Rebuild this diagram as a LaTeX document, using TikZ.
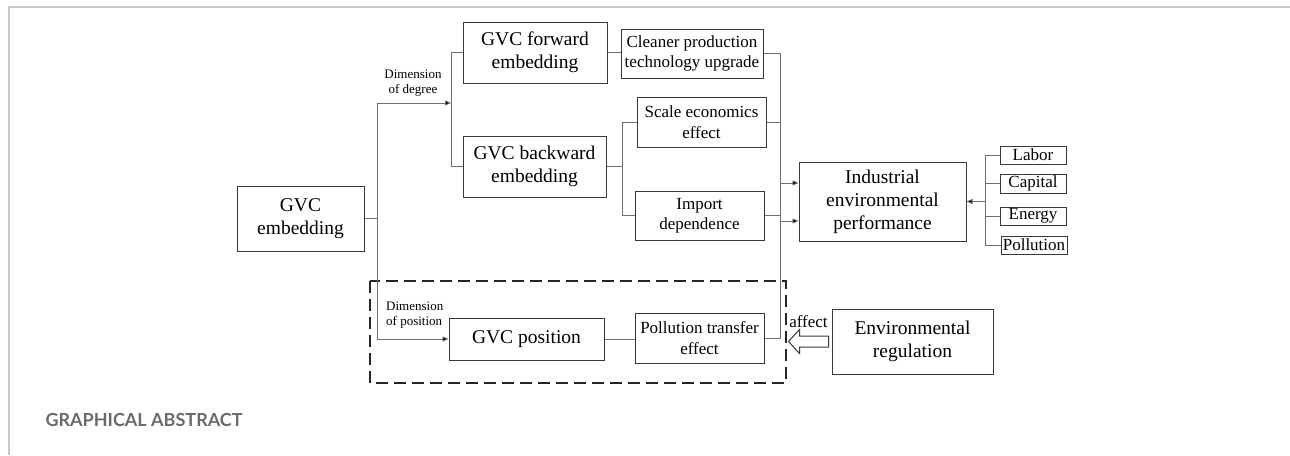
\documentclass[tikz,border=0pt]{standalone}
\usepackage{fontspec}
\setmainfont{Liberation Serif}
\newfontfamily\labelsans{Lato}
\usetikzlibrary{arrows.meta}
\newcommand\fmain{\fontsize{19.5}{23}\selectfont}
\newcommand\fsub{\fontsize{17}{20.5}\selectfont}
\newcommand\ftiny{\fontsize{13}{15.5}\selectfont}
\definecolor{boxline}{HTML}{383838}
\definecolor{conline}{HTML}{6E6E6E}
\definecolor{framegray}{HTML}{C8C8C8}
\definecolor{titlegray}{HTML}{6A6A6A}
\tikzset{
  box/.style={draw=boxline, line width=1pt, inner sep=0pt, align=center, text=black},
  mainbox/.style={box, font=\fmain},
  subbox/.style={box, font=\fsub},
  conn/.style={draw=conline, line width=0.8pt},
  arr/.style={conn, -{Triangle[length=6pt,width=5pt]}, -{Triangle[length=6pt,width=5pt,fill=black]}},
}
\begin{document}
\begin{tikzpicture}[x=1pt,y=-1pt]
\useasboundingbox (0,0) rectangle (1290,455);
% frame
\draw[framegray, line width=1.2pt] (9,455) -- (9,7) -- (1290,7);
\node[anchor=west, text=titlegray, font=\labelsans\bfseries\fontsize{18}{20}\selectfont] (title) at (42,420) {GRAPHICAL ABSTRACT};

% boxes
\node[mainbox, minimum width=127pt, minimum height=65pt] (emb) at (300.5,218.5) {GVC\\embedding};
\node[mainbox, minimum width=144pt, minimum height=61pt] (fwd) at (535,52.5) {GVC forward\\embedding};
\node[mainbox, minimum width=143pt, minimum height=61pt] (bwd) at (534.5,166.5) {GVC backward\\embedding};
\node[subbox, minimum width=142pt, minimum height=49pt] (clean) at (692,53.5) {Cleaner production\\technology upgrade};
\node[subbox, minimum width=129pt, minimum height=50pt] (scale) at (701.5,122) {Scale economics\\effect};
\node[subbox, minimum width=129pt, minimum height=49pt] (import) at (699.5,215.5) {Import\\dependence};
\node[mainbox, minimum width=167pt, minimum height=79pt] (ind) at (882.5,201.5) {Industrial\\environmental\\performance};
\node[subbox, minimum width=66pt, minimum height=18pt] (labor) at (1033,155) {Labor};
\node[subbox, minimum width=66pt, minimum height=19pt] (capital) at (1033,183.5) {Capital};
\node[subbox, minimum width=66pt, minimum height=18pt] (energy) at (1033,216) {Energy};
\node[subbox, minimum width=66pt, minimum height=18pt] (pollution) at (1034,245) {Pollution};
\node[mainbox, minimum width=155pt, minimum height=42pt] (pos) at (526.5,339) {GVC position};
\node[subbox, minimum width=129pt, minimum height=50pt] (ptrans) at (699.5,338) {Pollution transfer\\effect};
\node[mainbox, minimum width=161pt, minimum height=65pt] (envreg) at (912.5,341.5) {Environmental\\regulation};

% dashed frame
\draw[black!85, line width=2pt, dash pattern=on 12pt off 6pt] (370,281) rectangle (786,383);

% labels
\node[font=\ftiny, align=center, inner sep=0pt] (ldeg) at (413,83) {Dimension\\of degree};
\node[font=\ftiny, align=left, inner sep=0pt, anchor=west] (lpos) at (386,315) {Dimension\\of position};
\node[font=\fsub, inner sep=0pt, anchor=base] (laff) at (808.5,327) {affect};

% left trunk
\coordinate (t1) at (377,103);
\coordinate (b1) at (451,103);
\coordinate (t2) at (377,339);
\draw[conn] (emb.east) -- (emb.east -| t1);
\draw[conn] (t1) -- (t2);
\draw[arr] (t1) -- (b1);
\draw[arr] (t2) -- (pos.west);
\draw[conn] (fwd.west) -- (fwd.west -| b1) -- (bwd.west -| b1) -- (bwd.west);

% forward -> cleaner
\draw[conn] (fwd.east) -- (fwd.east -| clean.west);
% backward bracket
\coordinate (sb) at (622,0);
\draw[conn] (bwd.east) -- (bwd.east -| sb);
\draw[conn] (scale.west) -- (scale.west -| sb) -- (import.west -| sb) -- (import.west);
% position -> pollution transfer
\draw[conn] (pos.east) -- (pos.east -| ptrans.west);

% right trunk
\coordinate (rt) at (780,0);
\draw[conn] (clean.east) -- (clean.east -| rt) -- (ptrans.east -| rt) -- (ptrans.east);
\draw[conn] (scale.east) -- (scale.east -| rt);
\draw[conn] (import.east) -- (import.east -| rt);
\coordinate (a1) at (780,183);
\coordinate (a2) at (780,221);
\draw[arr] (a1) -- (a1 -| ind.west);
\draw[arr] (a2) -- (a2 -| ind.west);

% inputs bracket
\coordinate (rb) at (985,0);
\draw[conn] (labor.west) -- (labor.west -| rb) -- (pollution.west -| rb) -- (pollution.west);
\draw[conn] (capital.west) -- (capital.west -| rb);
\draw[conn] (energy.west) -- (energy.west -| rb);
\draw[arr] (ind.east -| rb) -- (ind.east);

% hollow arrow from environmental regulation
\draw[boxline, line width=1pt, fill=white, line join=miter] (envreg.west) ++(-3,-5.5) -- ++(-29,0) -- ++(0,-6.5) -- ++(-11,12) -- ++(11,12) -- ++(0,-6.5) -- ++(29,0) -- cycle;
\end{tikzpicture}
\end{document}
